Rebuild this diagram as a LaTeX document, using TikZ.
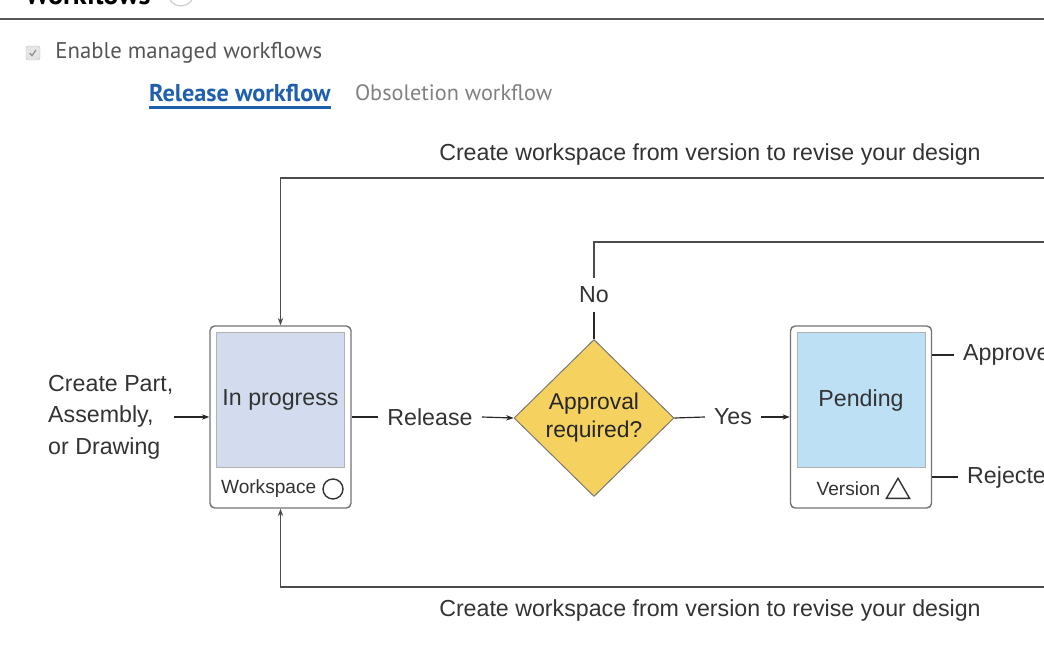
\documentclass[tikz,border=0pt]{standalone}
\usepackage{fontspec}
\setmainfont{Liberation Sans}
\newfontfamily\uifont{PT Sans}
\usetikzlibrary{shapes.geometric,positioning,arrows.meta}
\definecolor{progfill}{HTML}{D2DCEE}
\definecolor{pendfill}{HTML}{BEE0F5}
\definecolor{decfill}{HTML}{F5D25F}
\definecolor{tabblue}{HTML}{1F5FAD}
\definecolor{uigray}{HTML}{555555}
\tikzstyle{state} = [draw=black!55, line width=1.2pt, rounded corners=4pt, minimum width=4.23cm, minimum height=5.46cm]
\tikzstyle{face} = [draw=black!30, line width=0.6pt, minimum width=3.84cm, minimum height=4.05cm, font=\fontsize{19.8}{23}\selectfont, text=black!80]
\tikzstyle{lbl} = [inner sep=0.27cm, font=\fontsize{19.8}{23}\selectfont, text=black!80]
\tikzstyle{small} = [inner sep=0, font=\fontsize{16.3}{18}\selectfont, text=black!80]
\tikzstyle{flow} = [line width=1pt, black!85, ->, >={Stealth[length=0.22cm,width=0.16cm]}]
\tikzstyle{back} = [line width=1.3pt, black!70, ->, >={Stealth[length=0.22cm,width=0.16cm]}]
\tikzstyle{ui} = [inner sep=0, font=\uifont\fontsize{19.4}{22}\selectfont]

\begin{document}
\begin{tikzpicture}
    \useasboundingbox (0,0) rectangle (31.32,19.53);
    \clip (0,0) rectangle (31.32,19.53);

    % header
    \node[ui, font=\uifont\bfseries\fontsize{24}{28}\selectfont, anchor=base west] (head) at (0.75,19.4) {Workflows};
    \node[circle, draw=black!20, line width=1pt, minimum size=0.78cm] (help) at (5.43,19.74) {};
    \draw [uigray, line width=1.5pt] (0,18.96) -- (31.32,18.96);
    \node[draw=black!25, fill=black!10, rounded corners=2pt, minimum size=0.42cm] (chk) at (0.99,17.94) {};
    \draw [black!45, line width=1pt] ([shift={(-0.1,0)}]chk.center) -- ++(0.07,-0.08) -- ++(0.12,0.17);
    \node[ui, text=uigray, right=0.45cm of chk] (enable) {Enable managed workflows};
    \node[ui, font=\uifont\bfseries\fontsize{20.7}{24}\selectfont, text=tabblue, anchor=west] (reltab) at (4.47,16.74) {Release workflow};
    \node[ui, font=\uifont\fontsize{19}{22}\selectfont, text=black!50, right=0.72cm of reltab] (obstab) {Obsoletion workflow};
    \draw [tabblue, line width=2.5pt] ([yshift=-0.15cm]reltab.south west) -- ([yshift=-0.15cm]reltab.south east);

    % states
    \node[state] (prog) at (8.415,7.02) {};
    \node[face, fill=progfill, below=0.21cm of prog.north, anchor=north] (progin) {In progress};
    \node[small] (ws) at (8.06,4.86) {Workspace};
    \node[circle, draw=black!80, line width=1.2pt, minimum size=0.6cm, inner sep=0] (wsicon) at (9.99,4.86) {};

    \node[state] (pend) at (25.83,7.02) {};
    \node[face, fill=pendfill, below=0.21cm of pend.north, anchor=north] (pendin) {Pending};
    \node[small] (ver) at (25.455,4.86) {Version};
    \node[regular polygon, regular polygon sides=3, draw=black!80, line width=1.2pt, minimum size=0.8cm, inner sep=0, anchor=south] (vericon) at (26.94,4.56) {};

    \node[diamond, draw=black!55, line width=0.8pt, fill=decfill, minimum width=4.8cm, minimum height=4.71cm, inner sep=0, align=center, font=\fontsize{19.5}{24}\selectfont, text=black!85] (dec) at (17.82,6.99) {Approval\\required?};

    % labels
    \node[inner sep=0, align=left, anchor=west, font=\fontsize{19.8}{27}\selectfont, text=black!80] (src) at (1.44,7.02) {Create Part,\\Assembly,\\or Drawing};
    \node[lbl] (rel) at (12.9,7.02) {Release};
    \node[lbl] (yes) at (21.99,7.02) {Yes};
    \node[lbl] (no) at (17.82,10.68) {No};
    \node[lbl, anchor=west] (appr) at (28.62,8.88) {Approved};
    \node[lbl, anchor=west] (rej) at (28.74,5.22) {Rejected};
    \node[lbl] (revtop) at (21.3,14.88) {Create workspace from version to revise your design};
    \node[lbl] (revbot) at (21.3,1.23) {Create workspace from version to revise your design};
    \coordinate (topR) at (31.6,14.19);
    \coordinate (botR) at (31.6,1.92);
    \coordinate (noR) at (31.6,12.27);

    % connectors
    \draw [flow] (src.east) -- (prog.west);
    \draw [flow, -] (prog.east) -- (rel.west);
    \draw [flow] (rel.east) -- (dec.west);
    \draw [flow, -] (dec.east) -- (yes.west);
    \draw [flow] (yes.east) -- (pend.west);
    \draw [flow, -] (dec.north) -- (no.south);
    \draw [back, -] (no.north) |- (noR);
    \draw [flow, -] (pend.east |- appr) -- (appr.west);
    \draw [flow, -] (pend.east |- rej) -- (rej.west);
    \draw [back] (topR) -| (prog.north);
    \draw [back] (botR) -| (prog.south);
\end{tikzpicture}
\end{document}
